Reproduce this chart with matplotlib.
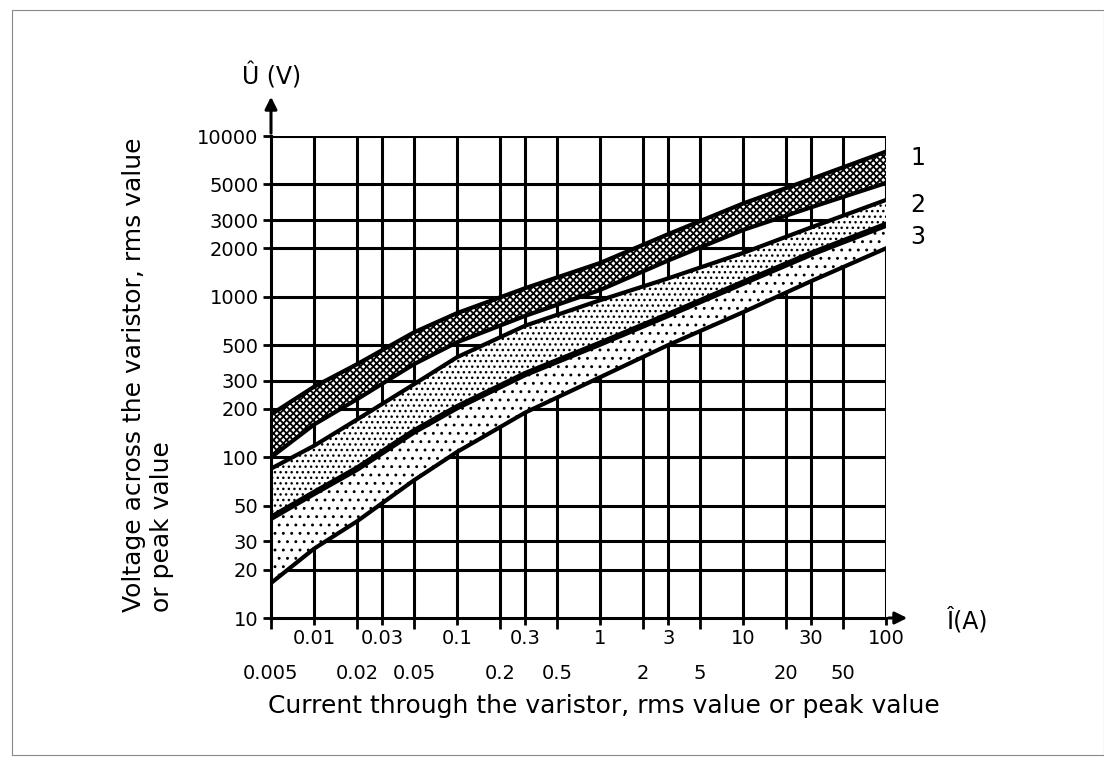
import numpy as np
import matplotlib
matplotlib.use("Agg")
import matplotlib.pyplot as plt
from matplotlib.patches import Rectangle

# current (A) where the band edges were read
current = [0.005, 0.01, 0.02, 0.05, 0.1, 0.3, 1, 3, 10, 30, 100]

# band edges, voltage (V)
band1_top = [185, 275, 380, 600, 790, 1130, 1620, 2450, 3800, 5400, 8000]
band1_bot = [100, 160, 230, 380, 520, 760, 1100, 1680, 2600, 3600, 5100]
band2_top = [85, 118, 172, 285, 420, 660, 950, 1300, 1870, 2700, 4000]
band23_mid = [42, 60, 85, 145, 205, 330, 510, 770, 1220, 1850, 2800]
band3_bot = [16.5, 27, 40, 72, 108, 190, 315, 500, 800, 1250, 2000]

x_major = [0.01, 0.03, 0.1, 0.3, 1, 3, 10, 30, 100]
x_major_lbl = ["0.01", "0.03", "0.1", "0.3", "1", "3", "10", "30", "100"]
x_minor = [0.005, 0.02, 0.05, 0.2, 0.5, 2, 5, 20, 50]
x_minor_lbl = ["0.005", "0.02", "0.05", "0.2", "0.5", "2", "5", "20", "50"]
y_ticks = [10, 20, 30, 50, 100, 200, 300, 500, 1000, 2000, 3000, 5000, 10000]

W, H = 1104, 764
fig = plt.figure(figsize=(W / 100, H / 100), dpi=100)

L, R, T, B = 271, 886, 136, 618
ax = fig.add_axes([L / W, 1 - B / H, (R - L) / W, (B - T) / H])
ax.set_xscale("log")
ax.set_yscale("log")
ax.set_xlim(0.005, 100)
ax.set_ylim(10, 10000)

for s in ["top", "right"]:
    ax.spines[s].set_visible(False)
for s in ["left", "bottom"]:
    ax.spines[s].set_linewidth(2.2)

# grid
for v in x_major + x_minor[1:]:
    ax.axvline(v, color="k", lw=2.2, zorder=1)
for v in y_ticks[1:]:
    ax.axhline(v, color="k", lw=2.2, zorder=1)

# bands
plt.rcParams['hatch.linewidth'] = 1.3
ax.fill_between(current, band1_bot, band1_top, facecolor="white",
                edgecolor="k", hatch="xxxxx", lw=0, zorder=2)
plt.rcParams['hatch.linewidth'] = 1.0
ax.fill_between(current, band23_mid, band2_top, facecolor="white",
                edgecolor="k", hatch="...", lw=0, zorder=2)
plt.rcParams['hatch.linewidth'] = 0.9
ax.fill_between(current, band3_bot, band23_mid, facecolor="white",
                edgecolor="k", hatch="..", lw=0, zorder=2)
for ys, w in [(band1_top, 3.0), (band1_bot, 3.0), (band2_top, 3.0),
              (band23_mid, 4.5), (band3_bot, 3.0)]:
    ax.plot(current, ys, color="k", lw=w, zorder=3)

# ticks
ax.set_xticks(x_major)
ax.set_xticklabels(x_major_lbl)
ax.set_xticks(x_minor, minor=True)
ax.set_xticklabels(x_minor_lbl, minor=True)
ax.set_yticks(y_ticks)
ax.set_yticklabels([str(v) for v in y_ticks])
ax.yaxis.set_minor_locator(matplotlib.ticker.NullLocator())
ax.tick_params(axis="x", which="major", length=5, width=2, pad=3, labelsize=14)
ax.tick_params(axis="x", which="minor", length=8, width=2, pad=25, labelsize=14)
ax.tick_params(axis="y", length=6, width=2, pad=3, labelsize=14)

# axis arrows
ax.annotate("", xy=(0, 1 + 42 / (B - T)), xytext=(0, 1), xycoords="axes fraction",
            arrowprops=dict(arrowstyle="-|>", color="k", lw=2.2, mutation_scale=18),
            annotation_clip=False)
ax.annotate("", xy=(1 + 24 / (R - L), 0), xytext=(1, 0), xycoords="axes fraction",
            arrowprops=dict(arrowstyle="-|>", color="k", lw=2.2, mutation_scale=18),
            annotation_clip=False)

# texts
fig.text(272 / W, 1 - 76 / H, "Û (V)", fontsize=17, ha="center", va="center")
fig.text(968 / W, 1 - 620 / H, "Î(A)", fontsize=17, ha="center", va="center")
fig.text(604 / W, 1 - 706 / H, "Current through the varistor, rms value or peak value",
         fontsize=18, ha="center", va="center")
fig.text(148 / W, 1 - 375 / H, "Voltage across the varistor, rms value\nor peak value",
         fontsize=18, ha="center", va="center", rotation=90, multialignment="left",
         linespacing=1.2)
for t, y in [("1", 158), ("2", 205), ("3", 237)]:
    fig.text(918 / W, 1 - y / H, t, fontsize=17, ha="center", va="center")

# thin frame around the picture
fig.patches.append(Rectangle((12 / W, 1 - 755 / H), (W - 12) / W, 745 / H,
                             transform=fig.transFigure, fill=False,
                             edgecolor="#888888", lw=0.8))

fig.savefig("out.png", dpi=100)
